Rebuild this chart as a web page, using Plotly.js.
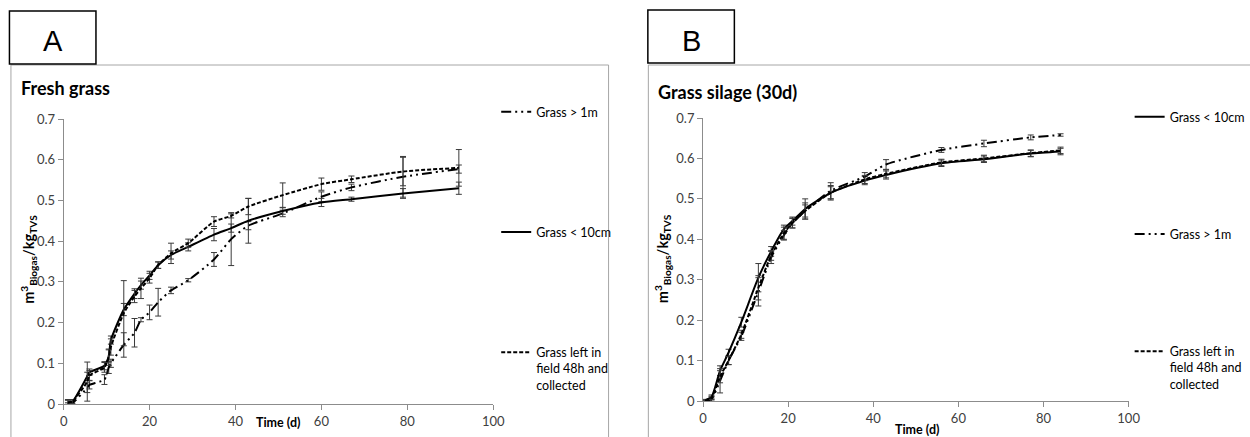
<!DOCTYPE html>
<html>
<head>
<meta charset="utf-8">
<script src="https://cdn.plot.ly/plotly-3.0.1.min.js"></script>
<style>html,body{margin:0;padding:0;background:#fff;}#chart{width:1250px;height:437px;}</style>
</head>
<body>
<div id="chart"></div>
<script>
// ---------- Panel A: Fresh grass ----------
const daysA = [1, 2, 5.5, 6, 9.5, 10.5, 11, 14, 16.5, 18, 20, 22, 25, 29, 35, 39, 43, 51, 60, 67, 79, 92];
const freshShort = [0.003, 0.005, 0.068, 0.078, 0.094, 0.118, 0.157, 0.232, 0.271, 0.292, 0.316, 0.341, 0.366, 0.386, 0.416, 0.432, 0.45, 0.474, 0.495, 0.503, 0.517, 0.53];
const freshShortErr = [0.008, 0.005, 0.01, 0.008, 0.01, 0.015, 0.01, 0.015, 0.012, 0.01, 0.01, 0.008, 0.01, 0.01, 0.015, 0.01, 0.055, 0.008, 0.01, 0.005, 0.012, 0.015];
const freshTall = [0, 0.002, 0.04, 0.047, 0.06, 0.09, 0.1, 0.145, 0.175, 0.207, 0.225, 0.25, 0.279, 0.304, 0.355, 0.405, 0.438, 0.468, 0.509, 0.532, 0.558, 0.577];
const freshTallErr = [0.003, 0.003, 0.012, 0.01, 0.012, 0.015, 0.01, 0.03, 0.035, 0.005, 0.018, 0.034, 0.008, 0.004, 0.017, 0.065, 0.01, 0.008, 0.012, 0.008, 0.05, 0.01];
const freshLeft = [0.004, 0.006, 0.055, 0.07, 0.09, 0.115, 0.14, 0.223, 0.264, 0.284, 0.309, 0.341, 0.37, 0.395, 0.448, 0.462, 0.485, 0.513, 0.54, 0.552, 0.571, 0.58];
const freshLeftErr = [0.005, 0.005, 0.048, 0.012, 0.012, 0.02, 0.02, 0.08, 0.015, 0.025, 0.012, 0.008, 0.025, 0.01, 0.012, 0.005, 0.02, 0.03, 0.015, 0.008, 0.035, 0.045];

// ---------- Panel B: Grass silage (30d) ----------
const daysB = [0.5, 2, 4, 6, 9, 13, 16, 19, 21, 24, 30, 38, 43, 56, 66, 77, 84];
const silageShort = [0.002, 0.01, 0.075, 0.12, 0.195, 0.305, 0.37, 0.425, 0.445, 0.475, 0.515, 0.545, 0.559, 0.588, 0.598, 0.612, 0.617];
const silageShortErr = [0.002, 0.005, 0.012, 0.008, 0.012, 0.035, 0.012, 0.01, 0.01, 0.025, 0.015, 0.01, 0.01, 0.008, 0.008, 0.008, 0.008];
const silageTall = [0, 0.005, 0.05, 0.1, 0.16, 0.27, 0.355, 0.41, 0.44, 0.47, 0.52, 0.555, 0.585, 0.621, 0.637, 0.652, 0.658];
const silageTallErr = [0.002, 0.005, 0.03, 0.01, 0.01, 0.035, 0.015, 0.012, 0.012, 0.02, 0.02, 0.01, 0.012, 0.006, 0.008, 0.006, 0.003];
const silageLeft = [0, 0.008, 0.06, 0.1, 0.165, 0.28, 0.36, 0.415, 0.44, 0.47, 0.515, 0.548, 0.562, 0.59, 0.6, 0.613, 0.62];
const silageLeftErr = [0.002, 0.004, 0.015, 0.01, 0.01, 0.03, 0.012, 0.015, 0.012, 0.015, 0.018, 0.01, 0.01, 0.008, 0.008, 0.008, 0.008];

const seriesNames = ["Grass < 10cm", "Grass > 1m", "Grass left in<br>field 48h and<br>collected"];
const tickVals = [0, 0.1, 0.2, 0.3, 0.4, 0.5, 0.6, 0.7];

const W = 1250, H = 437;
const px = v => v / W;
const py = v => (H - v) / H;

const FONT = "Lato, 'Liberation Sans', sans-serif";
const dashDot = "10px,4px,2px,4px,2px,4px";
const dashed = "4px,2px";

function tr(x, y, err, name, dash, xa, ya, leg, rank) {
  return {
    type: "scatter", mode: "lines", x: x, y: y, name: name,
    xaxis: xa, yaxis: ya, legend: leg, legendgroup: leg + "-" + rank, legendrank: rank,
    line: {color: "#000", width: 2, dash: dash, shape: "spline", smoothing: 0.6},
    error_y: {type: "data", array: err, visible: true, color: "#3a3a3a", thickness: 1, width: 3},
    hoverinfo: "x+y+name"
  };
}

const data = [
  tr(daysA, freshTall, freshTallErr, seriesNames[1], dashDot, "x", "y", "legend", 1),
  tr(daysA, freshShort, freshShortErr, seriesNames[0], "solid", "x", "y", "legend", 2),
  tr(daysA, freshLeft, freshLeftErr, seriesNames[2], dashed, "x", "y", "legend", 3),
  tr(daysB, silageShort, silageShortErr, seriesNames[0], "solid", "x2", "y2", "legend2", 1),
  tr(daysB, silageTall, silageTallErr, seriesNames[1], dashDot, "x2", "y2", "legend2", 2),
  tr(daysB, silageLeft, silageLeftErr, seriesNames[2], dashed, "x2", "y2", "legend2", 3)
];

const axisX = (dom, anchor) => ({
  domain: dom, anchor: anchor, range: [0, 100], dtick: 20, tick0: 0,
  showgrid: false, zeroline: false, showline: true, linecolor: "#8c8c8c", linewidth: 1,
  ticks: "outside", ticklen: 5, tickcolor: "#8c8c8c",
  tickfont: {family: FONT, size: 13, color: "#404040"}, fixedrange: true
});
const axisY = (dom, anchor) => ({
  domain: dom, anchor: anchor, range: [0, 0.7], tickvals: tickVals,
  showgrid: false, zeroline: false, showline: true, linecolor: "#8c8c8c", linewidth: 1,
  ticks: "outside", ticklen: 5, tickcolor: "#8c8c8c",
  tickfont: {family: FONT, size: 13, color: "#404040"}, fixedrange: true
});

const legendStyle = (x, y, gap) => ({
  x: x, y: y, xanchor: "left", yanchor: "top", xref: "paper", yref: "paper",
  bgcolor: "rgba(0,0,0,0)", borderwidth: 0, valign: "top",
  tracegroupgap: gap, traceorder: "grouped", itemwidth: 30,
  font: {family: FONT, size: 12.5, color: "#000"}
});

const yTitle = "<b>m<sup>3</sup><sub>Biogas</sub>/kg<sub>TVS</sub></b>";

const layout = {
  width: W, height: H,
  margin: {l: 0, r: 0, t: 0, b: 0},
  paper_bgcolor: "#fff", plot_bgcolor: "rgba(0,0,0,0)",
  font: {family: FONT, color: "#000"},
  showlegend: true,
  xaxis: axisX([px(64), px(496)], "y"),
  yaxis: axisY([py(404), py(119)], "x"),
  xaxis2: axisX([px(707), px(1135)], "y2"),
  yaxis2: axisY([py(401), py(118)], "x2"),
  legend: legendStyle(px(499), py(97), 101),
  legend2: legendStyle(px(1136), py(102), 98),
  shapes: [
    {type: "rect", xref: "paper", yref: "paper", x0: px(11), x1: px(612), y0: -0.05, y1: py(65),
     line: {color: "#a6a6a6", width: 1}, layer: "below"},
    {type: "rect", xref: "paper", yref: "paper", x0: px(652), x1: 1.05, y0: -0.05, y1: py(65),
     line: {color: "#a6a6a6", width: 1}, layer: "below"},
    {type: "rect", xref: "paper", yref: "paper", x0: px(9.5), x1: px(96.5), y0: py(64), y1: py(11),
     line: {color: "#000", width: 1.5}, fillcolor: "#fff", layer: "above"},
    {type: "rect", xref: "paper", yref: "paper", x0: px(651.5), x1: px(738.5), y0: py(63), y1: py(10),
     line: {color: "#000", width: 1.5}, fillcolor: "#fff", layer: "above"}
  ],
  annotations: [
    {text: "A", xref: "paper", yref: "paper", x: px(53), y: py(41), xanchor: "center", yanchor: "middle",
     showarrow: false, font: {family: "'Liberation Sans', Arial, sans-serif", size: 29, color: "#000"}},
    {text: "B", xref: "paper", yref: "paper", x: px(695), y: py(41), xanchor: "center", yanchor: "middle",
     showarrow: false, font: {family: "'Liberation Sans', Arial, sans-serif", size: 29, color: "#000"}},
    {text: "<b>Fresh grass</b>", xref: "paper", yref: "paper", x: px(19), y: py(88), xanchor: "left", yanchor: "middle",
     showarrow: false, font: {family: FONT, size: 18, color: "#000"}},
    {text: "<b>Grass silage (30d)</b>", xref: "paper", yref: "paper", x: px(660), y: py(92), xanchor: "left", yanchor: "middle",
     showarrow: false, font: {family: FONT, size: 18, color: "#000"}},
    {text: "<b>Time (d)</b>", xref: "paper", yref: "paper", x: px(280), y: py(422), xanchor: "center", yanchor: "middle",
     showarrow: false, font: {family: FONT, size: 12.5, color: "#000"}},
    {text: "<b>Time (d)</b>", xref: "paper", yref: "paper", x: px(922), y: py(429), xanchor: "center", yanchor: "middle",
     showarrow: false, font: {family: FONT, size: 12.5, color: "#000"}},
    {text: yTitle, xref: "paper", yref: "paper", x: px(28), y: py(259), xanchor: "center", yanchor: "middle",
     textangle: -90, showarrow: false, font: {family: FONT, size: 14.5, color: "#000"}},
    {text: yTitle, xref: "paper", yref: "paper", x: px(666), y: py(259), xanchor: "center", yanchor: "middle",
     textangle: -90, showarrow: false, font: {family: FONT, size: 14.5, color: "#000"}}
  ]
};

Plotly.newPlot("chart", data, layout, {displayModeBar: false, staticPlot: true});
</script>
</body>
</html>
